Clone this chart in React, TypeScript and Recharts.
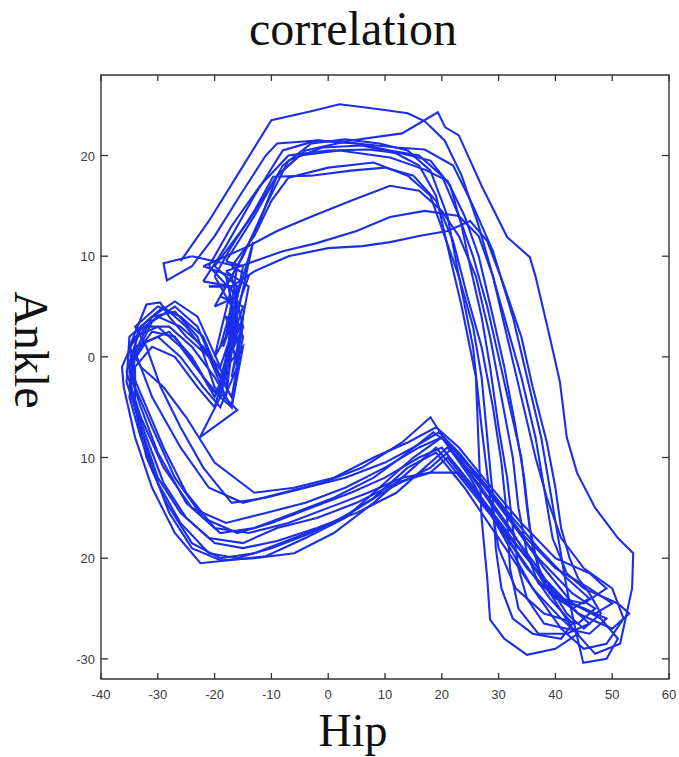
import React from 'react';
import { ScatterChart, Scatter, XAxis, YAxis, ReferenceArea } from 'recharts';

// hip / ankle angle pairs, one array per gait cycle
const cycle1: [number, number][] = [
  [-26, 9.5], [-21, 13.5], [-15.5, 18.5], [-10, 23.5], [-3, 24.4], [2, 25.1], [9, 24.6], [14, 24.2], [17, 23.4],
  [20.5, 21.5], [23.5, 18], [26.5, 13], [29, 8], [31.5, 2], [34, -4], [36.5, -10], [38.5, -14], [41, -18],
  [45, -21], [50, -23], [52, -26], [49, -28.5], [45, -29], [41, -27], [36, -23], [30, -17], [25, -12], [20, -8],
  [16, -9], [10, -11], [3, -13], [-4, -14.5], [-11, -15.5], [-18, -16.5], [-24, -15], [-29, -11], [-33, -6],
  [-35.5, -1.5], [-33, 3], [-29, 5], [-25, 3], [-21, 0], [-18, -3], [-17, 5], [-19, 1], [-16, 7], [-20, 9],
];
const cycle2: [number, number][] = [
  [-20, 9], [-14, 13.5], [-9, 18], [-4, 20.5], [4, 21.5], [13, 22.2], [19.3, 24.3], [20.6, 22.8], [23, 22],
  [27, 17], [31.5, 11.9], [35.5, 9.9], [36.5, 8], [39, 2], [40.8, -2.5], [42, -8], [43.8, -11.5], [47, -15],
  [51, -18], [53.7, -19.5], [53.5, -23], [51.4, -28.5], [47, -29.5], [43, -27], [38, -22.5], [32, -17], [27, -13],
  [22, -9.5], [18, -6], [13, -8.5], [6, -11], [-1, -12.5], [-8, -13.5], [-15, -14.5], [-21, -13], [-26, -9],
  [-31, -4], [-34, 0.5], [-31, 4], [-27, 5.5], [-23, 4], [-19, -1], [-16, 4], [-18, 0], [-15, 9], [-18, 9.5],
];
const cycle3: [number, number][] = [
  [-18, 9.5], [-13, 14], [-8, 19], [-3, 21.2], [3, 21.6], [9, 21.2], [14, 20.5], [18, 18.5], [21, 14], [23, 8],
  [25.5, 1], [27, -7], [28.5, -14], [30, -19], [33, -23], [38, -25.5], [44, -26.5], [47, -25], [43, -23.5],
  [37, -20], [31, -15.5], [25, -11], [20, -8], [15, -10], [9, -13], [3, -16], [-4, -18], [-11, -19.8],
  [-17.5, -20.2], [-22.5, -20.5], [-27, -17.5], [-31, -13], [-34, -8], [-36, -3], [-36.3, -1], [-34, 2],
  [-30, 3], [-26, 1], [-22, -2], [-19, -4], [-17, 3], [-20, 0], [-17, 7], [-22, 7.5],
];
const cycle4: [number, number][] = [
  [-22, 7.5], [-18, 11], [-13, 16], [-8, 20.5], [-2, 21.5], [5, 21.2], [12, 20.8], [17, 20.6], [22, 19],
  [25.5, 15], [29, 10.5], [32.5, 4], [35, -2], [37.5, -8], [39, -13], [40.5, -18], [42, -23], [43.5, -27],
  [44.9, -30.4], [49, -30], [51, -28], [48, -26], [43, -24.5], [38, -21], [33, -17], [27, -12.5], [21, -9],
  [17, -11], [12, -13.5], [5, -15.5], [-2, -17], [-9, -18.3], [-15, -19], [-20, -18.5], [-25, -16], [-29, -12.5],
  [-32, -8], [-34.5, -4], [-35, -0.5], [-31, 2.5], [-27, 2], [-23, -1], [-20, -4], [-16, 2], [-19, -2], [-15, 5],
  [-19, 6],
];
const cycle5: [number, number][] = [
  [-19, 6], [-15, 10], [-11, 15], [-7, 19.5], [-1, 20.8], [6, 21], [12, 20.2], [16, 19], [19, 16], [21, 11],
  [23.5, 5], [26, -2], [26.5, -9], [27, -16], [28, -22], [28.5, -26.1], [31, -28], [35, -29.6], [40, -29],
  [44, -27.5], [41, -26], [36, -23], [30, -18], [24, -13], [19, -9.5], [14, -11], [8, -14], [1, -16.5],
  [-6, -18], [-13, -19.5], [-19, -20], [-24, -18.5], [-28.5, -14.5], [-32, -10], [-34, -5], [-34, -1],
  [-31, 1], [-27, 0], [-23, -3], [-20, -5], [-17, 1], [-19, -3], [-16, 6], [-20, 5],
];
const cycle6: [number, number][] = [
  [-20, 5], [-16, 9], [-12, 13.5], [-9, 18], [-5, 20], [2, 20.5], [10.9, 19.8], [17, 18.6], [21, 17.5],
  [24, 14], [26.5, 10], [29, 4], [31, -1], [33, -7], [34.5, -12], [35.5, -17], [37, -21], [39, -23.5], [43, -25],
  [46, -24], [42, -22], [37, -19], [31, -15], [26, -11.5], [21, -8.5], [18.5, -7.5], [14, -9.5], [8, -12],
  [1, -14], [-6, -15.5], [-13, -17], [-19, -17.5], [-25, -14.5], [-30, -9.5], [-33, -5], [-35, -1.5],
  [-33.5, 2.5], [-30, 4], [-26, 3], [-22, 1], [-18, -2], [-16, 6], [-18.5, 1], [-14, 8], [-17, 9],
];
const cycle7: [number, number][] = [
  [-17, 9], [-13, 12], [-10, 15.5], [-7, 17.8], [0, 18.8], [8, 19.3], [14, 18], [18, 16], [20.5, 12],
  [23, 8], [25.5, 3], [27, -2], [28, -8], [29, -14], [29.5, -19], [30.5, -23], [32.5, -26], [36, -27.5],
  [41, -28], [43, -26.5], [39, -24], [34, -20], [28, -15], [23, -11.5], [18, -11.5], [12, -12.5], [5, -14.5],
  [-2, -16], [-9, -17], [-15, -18.5], [-21, -18], [-26, -15.5], [-30, -12], [-33, -7], [-35, -3], [-34, 1],
  [-30, 2], [-26, 0], [-22, -3], [-19, -5], [-16, -1], [-18, 4], [-15, 3], [-17, 8], [-22, 9],
];
const cycle8: [number, number][] = [
  [-22, 9], [-18, 10], [-14, 11], [-9, 12.5], [-2.7, 14], [4, 15.5], [10.9, 17], [16, 16.5], [20, 14.5],
  [23, 12], [26, 8], [28.5, 2], [30.5, -4], [32.5, -10], [33.5, -15], [35, -19.5], [37, -22.5], [41, -24],
  [47, -25.5], [50, -24.5], [46, -23], [40, -21], [34, -17.5], [28, -13], [23, -9.5], [19.5, -7.5], [15, -9],
  [10, -10.5], [3, -12], [-4, -13], [-11, -14], [-17, -14.5], [-22, -11], [-26, -7], [-29.5, -3], [-32, 1],
  [-34, 3], [-30, 5], [-26, 4], [-22, 2], [-19, -2], [-15, 3], [-17, -2], [-14, 7], [-18, 8.5],
];
const cycle9: [number, number][] = [
  [-18, 8.5], [-13, 9.5], [-8, 10.5], [-2, 11.3], [5, 12.5], [10.9, 13.9], [17, 14.5], [23, 14], [26.5, 12],
  [29, 8], [31.5, 3], [34, -2], [36.5, -8], [38, -13], [39.5, -18], [42, -21.5], [45, -23], [51, -24.5],
  [53, -25.5], [50, -27], [44, -25.5], [38, -22], [32, -18], [26, -13.5], [21, -10], [18, -11.5], [13, -12],
  [7, -13.5], [0, -15], [-7, -16.5], [-14, -17.5], [-20, -17], [-25, -13.5], [-29, -9], [-32, -5], [-35, -1],
  [-32, 1.5], [-28, 2.5], [-24, 0], [-21, -3], [-17, -5], [-15, 1], [-18, -1], [-16, 7], [-21, 7],
];
const cycle10: [number, number][] = [
  [-21, 7], [-17, 7], [-13, 8.5], [-7, 10], [0, 10.8], [6, 11], [10.9, 11.4], [16, 12], [21, 12.5],
  [25, 13.5], [28, 11.5], [31, 7], [34, 2], [36, -3], [38.5, -8.5], [40, -13], [41, -17], [42.5, -20],
  [44, -22], [46, -23.5], [48, -25.5], [45, -27], [42, -25.5], [37, -21], [31, -16.5], [26, -12.5], [22, -9],
  [18, -11], [11, -13], [4, -15.5], [-3, -17.5], [-10, -19], [-16, -20], [-21, -19.5], [-26, -16.5],
  [-30, -12.5], [-33, -8], [-35, -4], [-34, 0], [-31, 3.5], [-27, 5], [-23, 3], [-20, -1], [-17, -4], [-15, 2],
  [-17, 5], [-20, 8],
];
const cycle11: [number, number][] = [
  [-20, 8], [-17, 11], [-13, 14.5], [-9.7, 17.9], [-3, 18], [4, 18.5], [10, 18.8], [15, 18], [19, 15.5],
  [22, 11.5], [24.5, 6], [27, 1], [29, -5], [30.5, -10.5], [31.5, -16], [32, -21], [33.5, -25], [37, -27.5],
  [42, -27.5], [46, -26.5], [43, -25], [37, -21.5], [31, -17], [25, -12.5], [20, -9], [16, -10], [10, -12],
  [4, -13.5], [-3, -15], [-10, -16.5], [-16, -17.5], [-22, -16], [-27, -12], [-31, -7], [-34, -3], [-35, 1],
  [-32, 5.2], [-29.6, 5.4], [-28, 4], [-25, 2], [-21, 0], [-18, -4], [-16, 5], [-18, 2], [-16, 9], [-24, 10],
];
const cycle12: [number, number][] = [
  [-24, 10], [-29, 9.3], [-28.4, 7.6], [-24, 9], [-20, 12], [-15, 16.5], [-11, 20], [-9, 21.2], [-2, 21.5],
  [5, 21.2], [10.9, 20.5], [16, 20], [20, 18], [23, 14], [25.5, 10], [28, 5], [30, 0], [32, -5], [34, -10],
  [35, -15], [36, -19], [38, -22.5], [41, -24], [45, -24.5], [49, -23], [46, -21.5], [40, -20], [34, -16.5],
  [28, -12.5], [23, -9], [19, -7], [14, -8.5], [8, -10], [1, -12], [-6, -13], [-13, -13.5], [-20, -10.5],
  [-25, -6], [-29, -3], [-33, -1], [-35, 1], [-32, 3], [-28, 3], [-24, 1], [-20, -2], [-17, -5], [-15, 4],
  [-18, -1], [-13.2, 11.4], [-16, 6], [-21, 9],
];
const cycle13: [number, number][] = [
  [-21, 9], [-17, 13], [-12, 17], [-7, 20], [0, 20.5], [7, 20.6], [13, 20.2], [18, 19.5], [21.5, 17],
  [23.5, 13], [25, 9], [27, 4], [28.5, -1], [30, -7], [31.5, -12], [32.5, -17], [33.5, -21], [35, -24],
  [38, -26.5], [42, -27], [46, -27.5], [49, -26], [45, -25], [40, -24], [35, -21], [29, -16], [24, -12.5],
  [19, -9], [14, -11.5], [8, -14.5], [1, -17.5], [-6, -19.5], [-13, -20], [-19, -20.2], [-24, -19], [-28, -15.5],
  [-31, -11], [-33.5, -6], [-35.5, -2.5], [-35, 2], [-31, 4], [-27, 4.5], [-23, 2], [-20, -3], [-16, -5.3],
  [-22.6, -8], [-19, -4], [-16, 3], [-18, 8],
];

const cycles = [cycle1, cycle2, cycle3, cycle4, cycle5, cycle6, cycle7, cycle8, cycle9, cycle10, cycle11, cycle12, cycle13];

const xTicks = [-40, -30, -20, -10, 0, 10, 20, 30, 40, 50, 60];
const yTicks = [-30, -20, -10, 0, 10, 20];
const yTickLabels = ['-30', '20', '10', '0', '10', '20'];

const W = 679;
const H = 757;
const PLOT_W = 568;
const PLOT_H = 604;
const AXIS = '#333';
const BLUE = '#1b2ee8';
const TICK_FONT = "'Liberation Sans', Arial, sans-serif";
const SERIF = "'Liberation Serif', 'Times New Roman', serif";

const XTick = ({ x, y, payload }: any) => (
  <g>
    <line x1={x} x2={x} y1={y} y2={y - 6} stroke={AXIS} strokeWidth={1.3} />
    <line x1={x} x2={x} y1={y - PLOT_H} y2={y - PLOT_H + 6} stroke={AXIS} strokeWidth={1.3} />
    <text x={x} y={y + 20} textAnchor="middle" fontSize={13} fontFamily={TICK_FONT} fill="#3a3a3a">
      {payload.value}
    </text>
  </g>
);

const YTick = ({ x, y, payload }: any) => {
  const label = yTickLabels[yTicks.indexOf(payload.value)];
  return (
    <g>
      <line x1={x} x2={x + 7} y1={y} y2={y} stroke={AXIS} strokeWidth={1.3} />
      <line x1={x + PLOT_W - 7} x2={x + PLOT_W} y1={y} y2={y} stroke={AXIS} strokeWidth={1.3} />
      <text x={x - 6} y={y + 5} textAnchor="end" fontSize={13} fontFamily={TICK_FONT} fill="#3a3a3a">
        {label}
      </text>
    </g>
  );
};

const NoDot = () => <g />;

export default function App() {
  return (
    <div style={{ position: 'absolute', left: 0, top: 0, width: W, height: H, background: '#fff' }}>
      <ScatterChart width={W} height={H} margin={{ top: 75, right: 10, bottom: 38, left: 41 }}>
        <XAxis
          type="number"
          dataKey="x"
          domain={[-40, 60]}
          ticks={xTicks}
          height={40}
          axisLine={false}
          tickLine={false}
          tickSize={0}
          tickMargin={0}
          tick={<XTick />}
          interval={0}
        />
        <YAxis
          type="number"
          dataKey="y"
          domain={[-32, 28]}
          ticks={yTicks}
          width={60}
          axisLine={false}
          tickLine={false}
          tickSize={0}
          tickMargin={0}
          tick={<YTick />}
          interval={0}
        />
        {cycles.map((c, i) => (
          <Scatter
            key={i}
            data={c.map(([x, y]) => ({ x, y }))}
            line={{ stroke: BLUE, strokeWidth: 2.1 }}
            lineType="joint"
            shape={<NoDot />}
            fill={BLUE}
            isAnimationActive={false}
          />
        ))}
        <ReferenceArea x1={-40} x2={60} y1={-32} y2={28} fill="none" stroke={AXIS} strokeWidth={1.4} strokeOpacity={1} fillOpacity={0} />
      </ScatterChart>
      <svg width={W} height={H} style={{ position: 'absolute', left: 0, top: 0, pointerEvents: 'none' }}>
        <text x={353} y={45} textAnchor="middle" fontSize={48} fontFamily={SERIF} fill="#111">correlation</text>
        <text x={353} y={746} textAnchor="middle" fontSize={46} fontFamily={SERIF} fill="#111">Hip</text>
        <text transform="translate(15,350) rotate(90)" textAnchor="middle" fontSize={48} fontFamily={SERIF} fill="#111">Ankle</text>
      </svg>
    </div>
  );
}
